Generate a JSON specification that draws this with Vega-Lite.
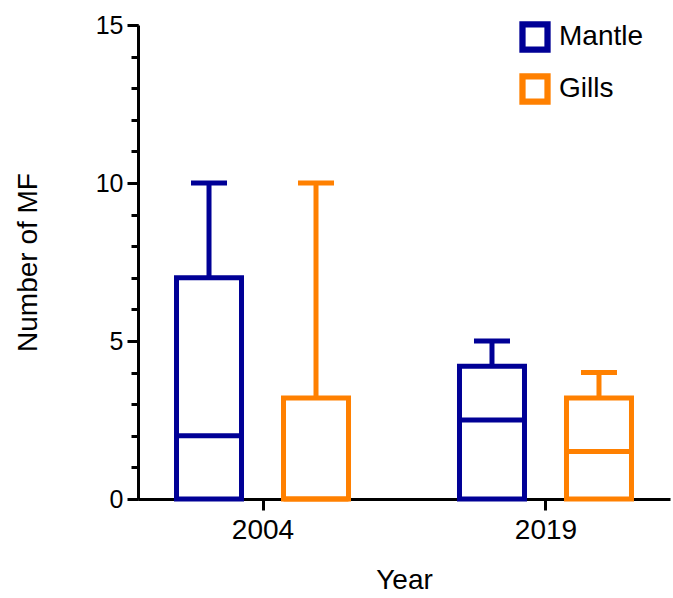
{
  "$schema": "https://vega.github.io/schema/vega-lite/v6.json",
  "autosize": "none",
  "width": 532,
  "height": 474,
  "padding": {"left": 138, "top": 25, "right": 3, "bottom": 99},
  "background": "white",
  "config": {
    "view": {"stroke": null},
    "font": "Liberation Sans",
    "axis": {"labelFont": "Liberation Sans", "titleFont": "Liberation Sans", "labelColor": "black", "titleColor": "black", "domainColor": "black", "tickColor": "black", "titleFontWeight": "normal", "grid": false}
  },
  "data": {
    "values": [
      {"Year": "2004", "Tissue": "Mantle", "min": 0, "q1": 0, "median": 2, "q3": 7, "max": 10},
      {"Year": "2004", "Tissue": "Gills", "min": 0, "q1": 0, "median": 0, "q3": 3.2, "max": 10},
      {"Year": "2019", "Tissue": "Mantle", "min": 0, "q1": 0, "median": 2.5, "q3": 4.2, "max": 5},
      {"Year": "2019", "Tissue": "Gills", "min": 0, "q1": 0, "median": 1.5, "q3": 3.2, "max": 4}
    ]
  },
  "encoding": {
    "x": {
      "field": "Year", "type": "nominal",
      "scale": {"type": "point", "padding": 0.44},
      "axis": {"title": "Year", "titleFontSize": 28, "titlePadding": 22, "labelFontSize": 28, "labelAngle": 0, "labelPadding": 6, "tickSize": 11, "tickWidth": 3, "domainWidth": 3}
    },
    "xOffset": {
      "field": "Tissue", "type": "nominal",
      "scale": {"type": "point", "padding": 0, "domain": ["Mantle", "Gills"], "range": [-53.5, 53.5]}
    },
    "color": {"field": "Tissue", "type": "nominal", "scale": {"domain": ["Mantle", "Gills"], "range": ["#000096", "#FF8000"]},
      "legend": {"title": null, "orient": "none", "legendX": 381, "legendY": -4, "symbolType": "M-1,-1H1V1H-1Z M-0.6,-0.6V0.6H0.6V-0.6Z", "symbolSize": 980, "symbolStrokeWidth": 0, "symbolOpacity": 1, "labelFontSize": 28, "labelFont": "Liberation Sans", "labelColor": "black", "rowPadding": 20, "labelOffset": 8, "padding": 0}}
  },
  "layer": [
    {
      "mark": {"type": "bar", "width": 65, "filled": false, "strokeWidth": 5, "opacity": 1},
      "encoding": {
        "y": {"field": "q1", "type": "quantitative", "scale": {"domain": [0, 15]},
          "axis": {"values": [0, 5, 10, 15], "title": "Number of MF", "titleFontSize": 28, "titlePadding": 53, "labelFontSize": 25, "labelPadding": 4, "tickSize": 11, "tickWidth": 3, "domainWidth": 3, "orient": "left"}},
        "y2": {"field": "q3"}
      }
    },
    {
      "mark": {"type": "rule", "strokeWidth": 5},
      "encoding": {
        "y": {"field": "q3", "type": "quantitative", "scale": {"domain": [0, 15]},
          "axis": {"values": [0,1,2,3,4,5,6,7,8,9,10,11,12,13,14,15], "labels": false, "title": null, "tickSize": 7, "tickWidth": 3, "domain": false, "orient": "left"}},
        "y2": {"field": "max"}
      }
    },
    {
      "mark": {"type": "tick", "size": 65, "thickness": 5, "opacity": 1},
      "encoding": {
        "y": {"field": "median", "type": "quantitative", "scale": {"domain": [0, 15]}, "axis": null}
      }
    },
    {
      "mark": {"type": "tick", "size": 36, "thickness": 5, "opacity": 1},
      "encoding": {
        "y": {"field": "max", "type": "quantitative", "scale": {"domain": [0, 15]}, "axis": null}
      }
    }
  ],
  "resolve": {"axis": {"y": "independent"}}
}
